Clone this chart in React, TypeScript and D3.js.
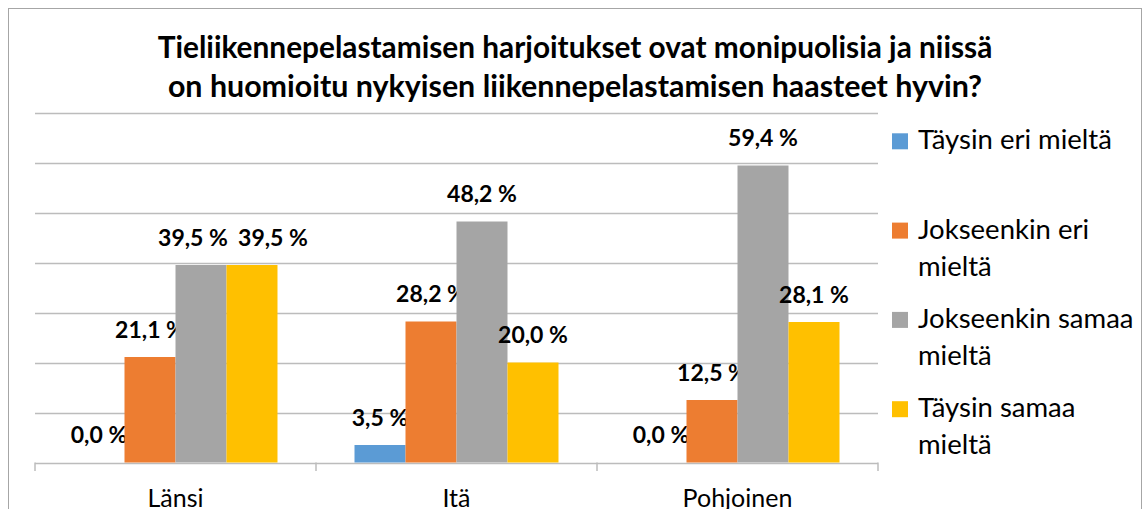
import React from "react";
import * as d3 from "d3";

const categories = ["Länsi", "Itä", "Pohjoinen"];
const seriesNames = ["Täysin eri mieltä", "Jokseenkin eri mieltä", "Jokseenkin samaa mieltä", "Täysin samaa mieltä"];
const legendLines = [["Täysin eri mieltä"], ["Jokseenkin eri", "mieltä"], ["Jokseenkin samaa", "mieltä"], ["Täysin samaa", "mieltä"]];
const taysinEri = [0.0, 3.5, 0.0];
const jokseenkinEri = [21.1, 28.2, 12.5];
const jokseenkinSamaa = [39.5, 48.2, 59.4];
const taysinSamaa = [39.5, 20.0, 28.1];
const seriesValues = [taysinEri, jokseenkinEri, jokseenkinSamaa, taysinSamaa];
const colors = ["#5b9bd5", "#ed7d31", "#a5a5a5", "#ffc000"];
const yTicks = [0, 10, 20, 30, 40, 50, 60, 70];
const titleLines = [
  "Tieliikennepelastamisen harjoitukset ovat monipuolisia ja niissä",
  "on huomioitu nykyisen liikennepelastamisen haasteet hyvin?",
];
// manual label nudges (category index, series index) -> dx
const labelNudge: Record<string, number> = { "0-2": -8, "0-3": 21 };

const FONT = "Lato, 'Open Sans', sans-serif";

export default function App() {
  const x0 = d3.scaleBand<string>().domain(categories).range([35, 878]).paddingInner(0).paddingOuter(0);
  const x1 = d3
    .scaleBand<string>()
    .domain(seriesNames)
    .range([0, x0.bandwidth()])
    .paddingInner(0)
    .paddingOuter(0.755);
  const y = d3.scaleLinear().domain([0, 70]).range([462.5, 112.5]);
  const fmt = (v: number) => v.toFixed(1).replace(".", ",") + " %";
  const tickXs = [...categories.map((c) => x0(c)!), 878];

  return (
    <svg
      width={1144}
      height={509}
      style={{ position: "fixed", left: 0, top: 0, display: "block", background: "#fff" }}
    >
      <rect x={8.5} y={8.5} width={1133} height={700} fill="#fff" stroke="#a6a6a6" strokeWidth={1} />
      {titleLines.map((t, i) => (
        <text
          key={i}
          x={575}
          y={58 + i * 39}
          textAnchor="middle"
          fontFamily={FONT}
          fontWeight={700}
          fontSize={i === 0 ? 29.8 : 30.4}
          fill="#000"
        >
          {t}
        </text>
      ))}
      {yTicks.map((t) => (
        <line
          key={t}
          x1={35}
          x2={878}
          y1={Math.round(y(t)) + 0.5}
          y2={Math.round(y(t)) + 0.5}
          stroke="#bcbcbc"
          strokeWidth={1.5}
        />
      ))}
      {tickXs.map((tx, i) => (
        <line key={i} x1={tx} x2={tx} y1={462.5} y2={471} stroke="#bcbcbc" strokeWidth={1.5} />
      ))}
      {categories.map((c, ci) => (
        <g key={c} transform={`translate(${x0(c)},0)`}>
          {seriesNames.map((s, si) => {
            const v = seriesValues[si][ci];
            const bx = x1(s)!;
            const bw = x1.bandwidth();
            return (
              <g key={s}>
                {v > 0 && <rect x={bx} y={y(v)} width={bw} height={y(0) - y(v)} fill={colors[si]} />}
                <text
                  x={bx + bw / 2 + (labelNudge[`${ci}-${si}`] || 0)}
                  y={y(v) - 19.3}
                  textAnchor="middle"
                  fontFamily={FONT}
                  fontWeight={700}
                  fontSize={23}
                  fill="#000"
                >
                  {fmt(v)}
                </text>
              </g>
            );
          })}
          <text
            x={x0.bandwidth() / 2}
            y={507}
            textAnchor="middle"
            fontFamily={FONT}
            fontSize={25}
            fill="#000"
          >
            {c}
          </text>
        </g>
      ))}
      {seriesNames.map((s, si) => {
        const base = 149.3 + si * 89.3;
        return (
          <g key={s}>
            <rect x={892} y={base - 16} width={16} height={16} fill={colors[si]} />
            {legendLines[si].map((l, li) => (
              <text key={li} x={918} y={base + li * 37} fontFamily={FONT} fontSize={27.5} fill="#000">
                {l}
              </text>
            ))}
          </g>
        );
      })}
    </svg>
  );
}
